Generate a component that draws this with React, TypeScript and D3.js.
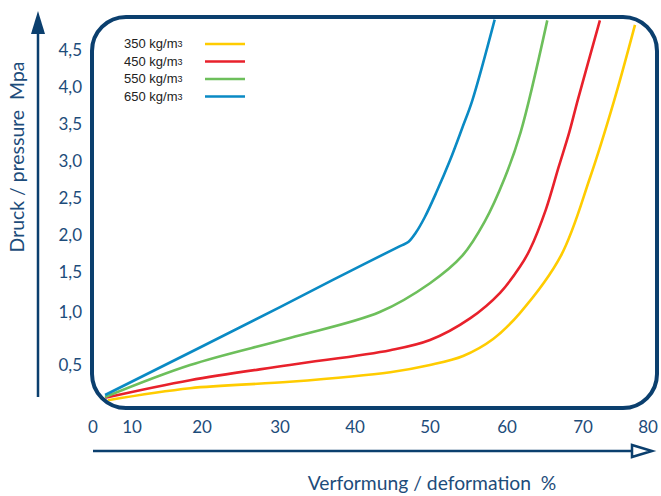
import React from 'react';
import * as d3 from 'd3';

// axis ticks (labels are placed unevenly in the original, so scales are piecewise)
const xTicks = [0, 10, 20, 30, 40, 50, 60, 70, 80];
const yTicks = [0.5, 1.0, 1.5, 2.0, 2.5, 3.0, 3.5, 4.0, 4.5];

// deformation % / pressure MPa
const d350: [number, number][] = [
  [3.8, 0.06], [18.3, 0.21], [31.3, 0.29], [44.7, 0.41], [50, 0.5], [54.3, 0.585],
  [58.2, 0.745], [61.7, 0.99], [67.1, 1.72], [71.1, 2.78], [74.8, 3.82], [78.0, 4.84],
];
const d450: [number, number][] = [
  [3.1, 0.09], [18.3, 0.31], [31.3, 0.5], [44.7, 0.64], [50, 0.736], [55.2, 0.94],
  [59.1, 1.24], [61.7, 1.57], [63.0, 1.8], [65.1, 2.34], [66.8, 2.92], [68.2, 3.39],
  [69.3, 3.82], [72.6, 4.9],
];
const d550: [number, number][] = [
  [3.1, 0.1], [18.3, 0.5], [31.3, 0.755], [43.3, 1.0], [50, 1.36], [54.2, 1.72],
  [57.1, 2.18], [59.7, 2.77], [61.8, 3.39], [65.3, 4.9],
];
const d650: [number, number][] = [
  [3.1, 0.125], [30, 1.06], [38.9, 1.49], [46, 1.85], [47.1, 1.905], [48.1, 2.03],
  [49.3, 2.24], [50.8, 2.57], [52.6, 3.01], [54.2, 3.45], [55.5, 3.82], [58.4, 4.91],
];

const seriesNames = ['350 kg/m', '450 kg/m', '550 kg/m', '650 kg/m'];
const seriesData = [d350, d450, d550, d650];
const seriesColors = ['#ffcc00', '#e8212b', '#6dbf5b', '#0a8ac4'];

const navy = '#0b3f6e';
const textNavy = '#1d4c7a';
const font = 'Lato, "Open Sans", sans-serif';

const App: React.FC = () => {
  const width = 661;
  const height = 496;

  const x = d3.scaleLinear()
    .domain(xTicks)
    .range([93, 132, 202, 280, 355, 430, 507, 583, 648]);

  const y = d3.scaleLinear()
    .domain([0, ...yTicks, 5.0])
    .range([405, 365, 312, 272, 235, 198, 161, 124, 87, 50, 13]);

  const line = d3.line<[number, number]>()
    .x(d => x(d[0]))
    .y(d => y(d[1]))
    .curve(d3.curveCatmullRom.alpha(0.5));

  const frame = { x: 92, y: 17, w: 565, h: 391, r: 34 };

  return (
    <svg width={width} height={height} style={{ position: 'absolute', left: 0, top: 0 }}>
      <defs>
        <clipPath id="inside">
          <rect x={frame.x + 2} y={frame.y + 2} width={frame.w - 4} height={frame.h - 4} rx={frame.r - 2} />
        </clipPath>
      </defs>
      <rect width={width} height={height} fill="#fff" />

      {/* curves */}
      <g clipPath="url(#inside)">
        {seriesData.map((s, i) => (
          <path key={i} d={line(s) || ''} fill="none" stroke={seriesColors[i]} strokeWidth={2.6} />
        ))}
      </g>

      {/* frame */}
      <rect x={frame.x} y={frame.y} width={frame.w} height={frame.h} rx={frame.r}
        fill="none" stroke={navy} strokeWidth={4} />

      {/* legend */}
      {seriesNames.map((n, i) => (
        <g key={n} transform={`translate(0,${48 + i * 17.5})`}>
          <text x={124} y={0} fontFamily='"Liberation Sans", Arial, sans-serif' fontSize={13} fill="#222">
            {n}<tspan fontSize={9} dy={-1}>3</tspan>
          </text>
          <line x1={205} x2={245} y1={-4} y2={-4} stroke={seriesColors[i]} strokeWidth={2.6} />
        </g>
      ))}

      {/* y axis */}
      <line x1={38} x2={38} y1={397} y2={30} stroke={navy} strokeWidth={2.5} />
      <path d="M38,11 L45,34 L31,34 Z" fill={navy} />
      {yTicks.map(t => (
        <text key={t} x={82} y={y(t)} dy="0.35em" textAnchor="end"
          fontFamily={font} fontSize={17} fill={textNavy}>
          {d3.format('.1f')(t).replace('.', ',')}
        </text>
      ))}
      <text transform="translate(24,157) rotate(-90)" textAnchor="middle"
        fontFamily={font} fontSize={19.4} fill={textNavy} style={{ whiteSpace: 'pre' }}>
        {'Druck / pressure  Mpa'}
      </text>

      {/* x axis */}
      <line x1={93} x2={632} y1={451} y2={451} stroke={navy} strokeWidth={2.5} />
      <path d="M632,445 L652,451 L632,457 Z" fill="#fff" stroke={navy} strokeWidth={2.5} strokeLinejoin="miter" />
      {xTicks.map(t => (
        <text key={t} x={x(t)} y={433} textAnchor="middle"
          fontFamily={font} fontSize={17} fill={textNavy}>
          {t}
        </text>
      ))}
      <text x={432} y={490} textAnchor="middle" fontFamily={font} fontSize={19.3}
        fill={textNavy} style={{ whiteSpace: 'pre' }}>
        {'Verformung / deformation  %'}
      </text>
    </svg>
  );
};

export default App;
